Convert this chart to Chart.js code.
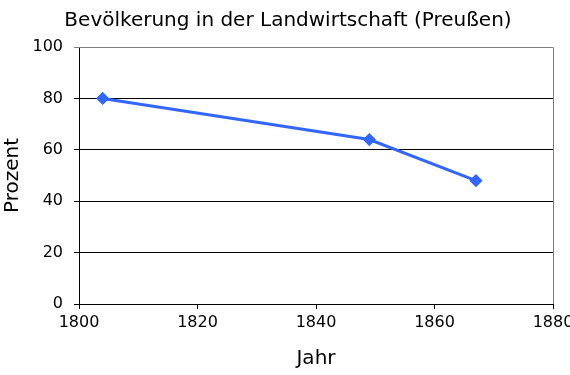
<!DOCTYPE html>
<html>
<head>
<meta charset="utf-8">
<script src="https://cdn.jsdelivr.net/npm/chart.js@4/dist/chart.umd.min.js"></script>
<style>
  body { margin: 0; background: #fff; }
  #wrap { width: 570px; height: 375px; }
</style>
</head>
<body>
<div id="wrap"><canvas id="chart" width="570" height="375"></canvas></div>
<script>
var years = [1804, 1849, 1867];
var percent = [80, 64, 48];
var xTicks = [1800, 1820, 1840, 1860, 1880];
var yTicks = [0, 20, 40, 60, 80, 100];

var points = [];
for (var i = 0; i < years.length; i++) {
    points.push({ x: years[i], y: percent[i] });
}

// gray frame on top and right of the plot area
var frame = {
    id: 'frame',
    afterDraw: function (chart) {
        var a = chart.chartArea;
        var ctx = chart.ctx;
        ctx.save();
        ctx.strokeStyle = '#808080';
        ctx.lineWidth = 1;
        ctx.beginPath();
        ctx.moveTo(a.left, a.top + 0.5);
        ctx.lineTo(a.right + 0.5, a.top + 0.5);
        ctx.lineTo(a.right + 0.5, a.bottom);
        ctx.stroke();
        ctx.restore();
    }
};

var ctx = document.getElementById('chart').getContext('2d');
var chart = new Chart(ctx, {
    type: 'scatter',
    data: {
        datasets: [
            {
                label: 'Prozent',
                data: points,
                showLine: true,
                borderColor: '#3366ff',
                backgroundColor: '#3366ff',
                borderWidth: 3,
                pointStyle: 'rectRot',
                pointRadius: 4.5,
                pointHoverRadius: 4.5
            }
        ]
    },
    options: {
        responsive: false,
        animation: false,
        // negative right padding moves the title centre a bit to the right
        layout: { padding: { top: 0, right: -6, left: 0, bottom: 0 } },
        plugins: {
            legend: { display: false },
            tooltip: { enabled: false },
            title: {
                display: true,
                text: 'Bevölkerung in der Landwirtschaft (Preußen)',
                color: '#000',
                font: { family: 'DejaVu Sans', size: 20, weight: 'normal' },
                padding: { top: 9, bottom: 14 }
            }
        },
        scales: {
            x: {
                type: 'linear',
                min: xTicks[0],
                max: xTicks[xTicks.length - 1],
                afterBuildTicks: function (axis) {
                    axis.ticks = xTicks.map(function (v) { return { value: v }; });
                },
                afterFit: function (axis) {
                    axis.height = 71;
                    axis.paddingLeft = 0;
                    axis.paddingRight = 17;
                },
                border: { color: '#000', width: 1 },
                grid: { drawOnChartArea: false, drawTicks: true, tickLength: 5, color: '#000' },
                ticks: {
                    color: '#000',
                    padding: 4,
                    maxRotation: 0,
                    autoSkip: false,
                    font: { family: 'DejaVu Sans', size: 16 },
                    callback: function (v) { return String(v); }
                },
                title: {
                    display: true,
                    text: 'Jahr',
                    color: '#000',
                    font: { family: 'DejaVu Sans', size: 20 },
                    padding: { top: 0, bottom: 4 }
                }
            },
            y: {
                min: yTicks[0],
                max: yTicks[yTicks.length - 1],
                afterBuildTicks: function (axis) {
                    axis.ticks = yTicks.map(function (v) { return { value: v }; });
                },
                afterFit: function (axis) {
                    axis.width = 79;
                },
                border: { color: '#000', width: 1 },
                grid: {
                    drawTicks: true,
                    tickLength: 5,
                    color: function (c) { return c.tick && c.tick.value === 100 ? '#808080' : '#000'; }
                },
                ticks: {
                    color: '#000',
                    padding: 11,
                    font: { family: 'DejaVu Sans', size: 16 }
                },
                title: {
                    display: true,
                    text: 'Prozent',
                    color: '#000',
                    font: { family: 'DejaVu Sans', size: 20 },
                    padding: { top: 1, bottom: 0 }
                }
            }
        }
    },
    plugins: [frame]
});
</script>
</body>
</html>
